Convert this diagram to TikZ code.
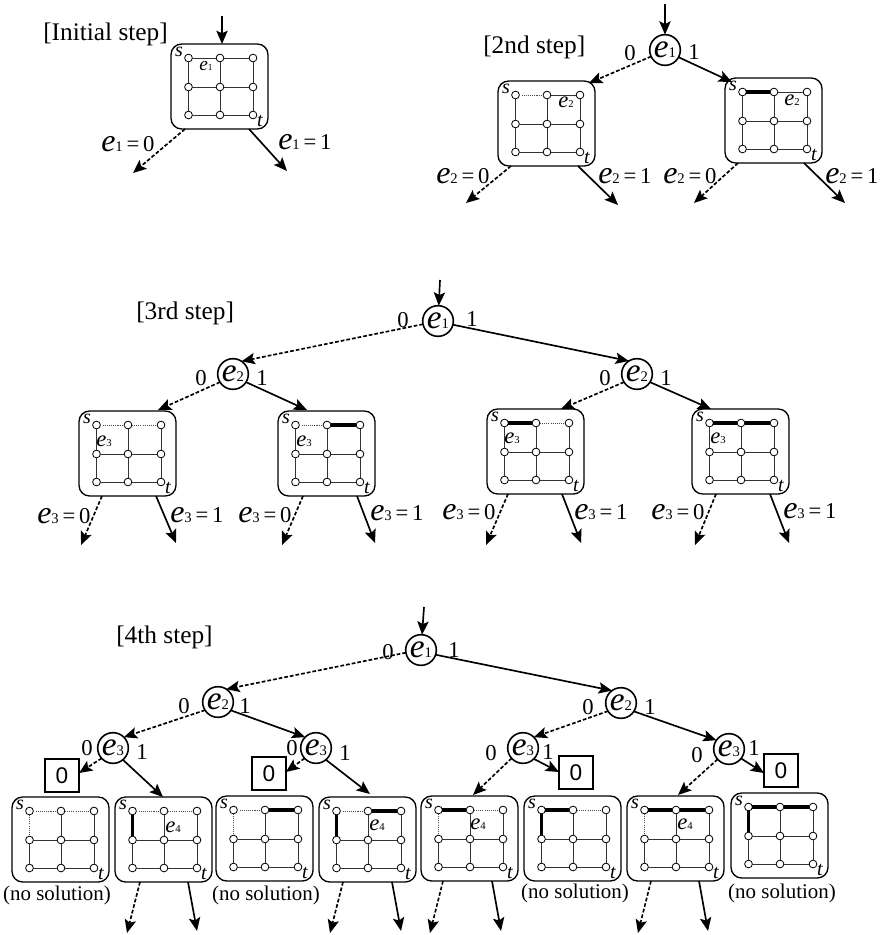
\documentclass[tikz,border=0pt]{standalone}
\usepackage{fontspec}
\setmainfont{Liberation Serif}
\newfontfamily\zerofont{Liberation Sans}
\usetikzlibrary{arrows.meta}
\newcommand{\fsz}[1]{\fontsize{#1}{#1}\selectfont}
\tikzset{
  gframe/.style={draw,rounded corners=8pt,line width=1pt,minimum width=72.75pt,minimum height=63.75pt,inner sep=0pt,outer sep=0pt,anchor=north west},
  gv/.style={draw,circle,line width=.6pt,minimum size=5.8pt,inner sep=0pt,outer sep=0pt,fill=white},
  nrm/.style={line width=.72pt,black!80},
  thk/.style={line width=2.3pt,black},
  dot/.style={line width=.5pt,black!70,dash pattern=on .8pt off .8pt},
  var/.style={draw,circle,line width=1.2pt,minimum size=23pt,inner sep=0pt,outer sep=0pt,font=\fsz{25}\itshape},
  zbox/.style={draw,line width=1.2pt,minimum width=25.5pt,minimum height=24.75pt,inner sep=0pt,outer sep=0pt,anchor=north west,font=\zerofont\fsz{17}},
  sarr/.style={-{Stealth[length=10pt,width=8.5pt,inset=2pt]},line width=1.25pt},
  darr/.style={sarr,dash pattern=on 2.8pt off 1.5pt},
  title/.style={anchor=base west,inner sep=0pt,font=\fsz{19}},
  digit/.style={inner sep=0pt,font=\fsz{17}},
  nosol/.style={inner sep=0pt,font=\fsz{15.7}},
  eq/.style={anchor=base west,inner sep=0pt},
  glab/.style={inner sep=0pt,font=\fsz{17}\itshape},
  stlab/.style={inner sep=0pt,font=\fsz{15}\itshape}
}
% e with subscript inside a variable circle or grid
\newcommand{\ev}[1]{e{\upshape\fsz{11}#1}}
\newcommand{\eg}[1]{e{\upshape\fsz{8}#1}}
\newcommand{\eqn}[2]{{\fsz{24}\itshape e}{\fsz{11}#1}{\fsz{17}\,=\,#2}}
% name, x, y, styles of top-left edge, top-right edge, left-top edge
\newcommand{\gbox}[6]{%
  \node[gframe] (#1) at (#2,#3) {};
  \foreach \r/\yy in {1/14,2/43,3/71} {
    \foreach \c/\xx in {1/17.5,2/49,3/82} {
      \node[gv] (#1-\r-\c) at ([shift={(\xx,\yy)}]#1.north west) {};
    }
  }
  \draw[#4] (#1-1-1) -- (#1-1-2);
  \draw[#5] (#1-1-2) -- (#1-1-3);
  \draw[#6] (#1-1-1) -- (#1-2-1);
  \draw[nrm] (#1-2-1) -- (#1-2-2) (#1-2-2) -- (#1-2-3)
             (#1-3-1) -- (#1-3-2) (#1-3-2) -- (#1-3-3)
             (#1-1-2) -- (#1-2-2) (#1-1-3) -- (#1-2-3)
             (#1-2-1) -- (#1-3-1) (#1-2-2) -- (#1-3-2) (#1-2-3) -- (#1-3-3);
  \node[stlab] (#1-s) at ([shift={(8,8)}]#1.north west) {s};
  \node[stlab] (#1-t) at ([shift={(89,77)}]#1.north west) {t};
}
% box, dashed start dx, end x, end y, solid start dx, end x, end y
\newcommand{\downs}[7]{%
  \coordinate (#1-dd) at (#3,#4);
  \coordinate (#1-ds) at (#6,#7);
  \draw[darr] ([shift={(#2,0)}]#1.south west) -- (#1-dd);
  \draw[sarr] ([shift={(#5,0)}]#1.south west) -- (#1-ds);
}
\begin{document}
\begin{tikzpicture}[x=.75pt,y=-.75pt]
\useasboundingbox (0,0) rectangle (880,935);

% ---------- initial step
\node[title] (t1) at (43,40) {[Initial step]};
\gbox{a}{171}{44}{nrm}{nrm}{nrm}
\node[glab,font=\fsz{14.5}\itshape] (a-e) at ([shift={(35,22)}]a.north west) {e{\upshape\fsz{7}1}};
\coordinate (a-in) at (222,16);
\draw[sarr] (a-in) -- (a.north -| a-in);
\downs{a}{14}{133}{173}{78}{287}{171}
\node[eq] (a-l0) at (101,151) {\eqn{1}{0}};
\node[eq] (a-l1) at (278,149) {\eqn{1}{1}};

% ---------- 2nd step
\node[title] (t2) at (483,53) {[2nd step]};
\node[var] (b1) at (665,50) {\ev{1}};
\coordinate (b-in) at (665,4);
\draw[sarr] (b-in) -- (b1);
\node[digit] (b0l) at (630,53) {0};
\node[digit] (b1l) at (694,52) {1};
\gbox{b}{498}{81}{dot}{nrm}{nrm}
\gbox{c}{725}{78}{thk}{nrm}{nrm}
\node[glab] (b-e) at ([shift={(68,21)}]b.north west) {\eg{2}};
\node[glab] (c-e) at ([shift={(67,22)}]c.north west) {\eg{2}};
\draw[darr] (b1.205) -- ([shift={(-6,2)}]b.north east);
\draw[sarr] (b1.-28) -- ([shift={(7,4)}]c.north west);
\downs{b}{13}{466}{203}{80}{618}{205}
\downs{c}{13}{694}{203}{79}{845}{203}
\node[eq] (b-l0) at (436,183) {\eqn{2}{0}};
\node[eq] (b-l1) at (598,183) {\eqn{2}{1}};
\node[eq] (c-l0) at (663,183) {\eqn{2}{0}};
\node[eq] (c-l1) at (825,183) {\eqn{2}{1}};

% ---------- 3rd step
\node[title] (t3) at (136,319) {[3rd step]};
\node[var] (d1) at (438,321) {\ev{1}};
\node[var] (d2) at (233,374) {\ev{2}};
\node[var] (d3) at (637,374) {\ev{2}};
\coordinate (d-in) at (440,280);
\draw[sarr] (d-in) -- (d1);
\node[digit] (d1a) at (403,320) {0};
\node[digit] (d1b) at (472,319) {1};
\node[digit] (d2a) at (201,378) {0};
\node[digit] (d2b) at (262,378) {1};
\node[digit] (d3a) at (605,378) {0};
\node[digit] (d3b) at (666,378) {1};
\draw[darr] (d1.192) -- (d2.56);
\draw[sarr] (d1.-14) -- (d3.122);
\gbox{e}{79}{411}{dot}{dot}{nrm}
\gbox{f}{278}{411}{dot}{thk}{nrm}
\gbox{g}{487}{409}{thk}{dot}{nrm}
\gbox{h}{692}{409}{thk}{thk}{nrm}
\node[glab] (e-e) at ([shift={(25,30)}]e.north west) {\eg{3}};
\node[glab] (f-e) at ([shift={(26,30)}]f.north west) {\eg{3}};
\node[glab] (g-e) at ([shift={(25,29)}]g.north west) {\eg{3}};
\node[glab] (h-e) at ([shift={(26,29)}]h.north west) {\eg{3}};
\draw[darr] (d2.212) -- ([shift={(79,-1)}]e.north west);
\draw[sarr] (d2.-32) -- ([shift={(29,-1)}]f.north west);
\draw[darr] (d3.212) -- ([shift={(74,0)}]g.north west);
\draw[sarr] (d3.-32) -- ([shift={(19,0)}]h.north west);
\downs{e}{23}{81}{545}{77}{176}{543}
\downs{f}{25}{282}{545}{79}{375}{543}
\downs{g}{21}{486}{545}{75}{581}{543}
\downs{h}{24}{695}{545}{78}{789}{543}
\node[eq] (e-l0) at (37,523) {\eqn{3}{0}};
\node[eq] (e-l1) at (170,522) {\eqn{3}{1}};
\node[eq] (f-l0) at (238,522) {\eqn{3}{0}};
\node[eq] (f-l1) at (370,520) {\eqn{3}{1}};
\node[eq] (g-l0) at (442,519) {\eqn{3}{0}};
\node[eq] (g-l1) at (574,519) {\eqn{3}{1}};
\node[eq] (h-l0) at (651,519) {\eqn{3}{0}};
\node[eq] (h-l1) at (783,518) {\eqn{3}{1}};

% ---------- 4th step
\node[title] (t4) at (116,643) {[4th step]};
\node[var] (i1) at (421,650) {\ev{1}};
\node[var] (i2) at (218,702) {\ev{2}};
\node[var] (i3) at (621,703) {\ev{2}};
\node[var] (j1) at (113,748) {\ev{3}};
\node[var] (j2) at (316,748) {\ev{3}};
\node[var] (j3) at (523,748) {\ev{3}};
\node[var] (j4) at (729,749) {\ev{3}};
\coordinate (i-in) at (424,607);
\draw[sarr] (i-in) -- (i1);
\node[digit] (i1a) at (388,652) {0};
\node[digit] (i1b) at (454,650) {1};
\node[digit] (i2a) at (184,706) {0};
\node[digit] (i2b) at (245,706) {1};
\node[digit] (i3a) at (588,707) {0};
\node[digit] (i3b) at (650,707) {1};
\node[digit] (j1a) at (87,748) {0};
\node[digit] (j1b) at (142,752) {1};
\node[digit] (j2a) at (292,748) {0};
\node[digit] (j2b) at (345,753) {1};
\node[digit] (j3a) at (491,753) {0};
\node[digit] (j3b) at (548,752) {1};
\node[digit] (j4a) at (697,755) {0};
\node[digit] (j4b) at (754,748) {1};
\draw[darr] (i1.190) -- (i2.57);
\draw[sarr] (i1.-18) -- (i3.126);
\draw[darr] (i2.212) -- (j1.45);
\draw[sarr] (i2.-33) -- (j2.135);
\draw[darr] (i3.212) -- (j3.45);
\draw[sarr] (i3.-33) -- (j4.145);
\node[zbox] (z1) at (45,759) {0};
\node[zbox] (z2) at (252,757) {0};
\node[zbox] (z3) at (559,756) {0};
\node[zbox] (z4) at (764,754) {0};
\gbox{k}{12}{797}{dot}{dot}{dot}
\gbox{l}{115}{797}{dot}{dot}{thk}
\gbox{m}{216}{796}{dot}{thk}{dot}
\gbox{n}{319}{797}{dot}{thk}{thk}
\gbox{o}{421}{796}{thk}{dot}{dot}
\gbox{p}{524}{796}{thk}{dot}{thk}
\gbox{q}{627}{796}{thk}{thk}{dot}
\gbox{r}{731}{793}{thk}{thk}{thk}
\node[glab] (l-e) at ([shift={(58,30)}]l.north west) {\eg{4}};
\node[glab] (n-e) at ([shift={(58,28)}]n.north west) {\eg{4}};
\node[glab] (o-e) at ([shift={(57,28)}]o.north west) {\eg{4}};
\node[glab] (q-e) at ([shift={(58,28)}]q.north west) {\eg{4}};
\draw[darr] (j1.222) -- (z1.north east |- 0,773);
\draw[sarr] (j1.-50) -- ([shift={(48,0)}]l.north west);
\draw[darr] (j2.222) -- (z2.north east |- 0,772);
\draw[sarr] (j2.-50) -- ([shift={(51,-3)}]n.north west);
\draw[darr] (j3.222) -- ([shift={(52,-1)}]o.north west);
\draw[sarr] (j3.-45) -- (z3.west |- 0,772);
\draw[darr] (j4.222) -- ([shift={(51,-1)}]q.north west);
\draw[sarr] (j4.-38) -- (z4.west |- 0,773);
\downs{l}{25}{127}{933}{73}{197}{931}
\downs{n}{24}{330}{933}{73}{401}{931}
\downs{o}{22}{430}{933}{71}{501}{931}
\downs{q}{24}{638}{933}{72}{708}{931}
\node[nosol] (k-n) at (57,895) {(no solution)};
\node[nosol] (m-n) at (266,895) {(no solution)};
\node[nosol] (p-n) at (575,893) {(no solution)};
\node[nosol] (r-n) at (782,893) {(no solution)};
\end{tikzpicture}
\end{document}
